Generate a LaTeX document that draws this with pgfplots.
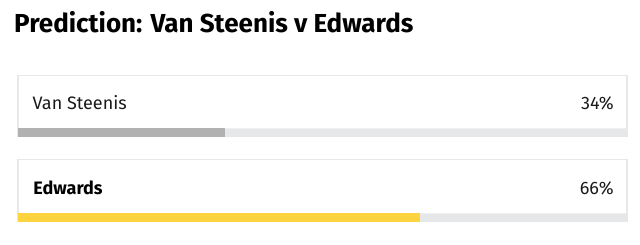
\documentclass[border=0pt]{standalone}
\usepackage{pgfplots}
\pgfplotsset{compat=1.18}
\usepackage{fontspec}
\setmainfont{Fira Sans}
\definecolor{track}{HTML}{E6E7E8}
\definecolor{greybar}{HTML}{B1B1B1}
\definecolor{yellowbar}{HTML}{FDD33F}
\definecolor{boxline}{HTML}{E8E8E8}
\definecolor{txt}{HTML}{1A1A1A}
\begin{document}
\begin{tikzpicture}
\begin{axis}[
  scale only axis, width=640pt, height=244pt,
  xmin=-2.956, xmax=102.135, ymin=0, ymax=244, y dir=reverse,
  hide axis, clip=false,
  xbar, bar width=8.5, bar shift=0pt,
]
\fill[white] (rel axis cs:0,0) rectangle (rel axis cs:1,1);
% boxes
\draw[boxline, line width=1.2pt, fill=white] (axis cs:0,75.5) rectangle (axis cs:100,136.5);
\draw[boxline, line width=1.2pt, fill=white] (axis cs:0,159.5) rectangle (axis cs:100,221.5);
% tracks
\addplot[fill=track, draw=none] coordinates {(100,132.5) (100,217.5)};
% values
\addplot[fill=greybar, draw=none] coordinates {(34,132.5)};
\addplot[fill=yellowbar, draw=none] coordinates {(66,217.5)};
% text
\node[anchor=base west, inner sep=0pt, font=\fontsize{26}{30}\selectfont\bfseries, text=black] at (axis cs:-0.657,32.3) {Prediction: Van Steenis v Edwards};
\node[anchor=base west, inner sep=0pt, font=\fontsize{18}{21}\selectfont, text=txt] at (axis cs:2.38,109) {Van Steenis};
\node[anchor=base east, inner sep=0pt, font=\fontsize{18}{21}\selectfont, text=txt] at (axis cs:97.87,109) {34\%};
\node[anchor=base west, inner sep=0pt, font=\fontsize{18}{21}\selectfont\bfseries, text=black] at (axis cs:2.51,194.3) {Edwards};
\node[anchor=base east, inner sep=0pt, font=\fontsize{18}{21}\selectfont, text=txt] at (axis cs:97.87,194.3) {66\%};
\end{axis}
\end{tikzpicture}
\end{document}
